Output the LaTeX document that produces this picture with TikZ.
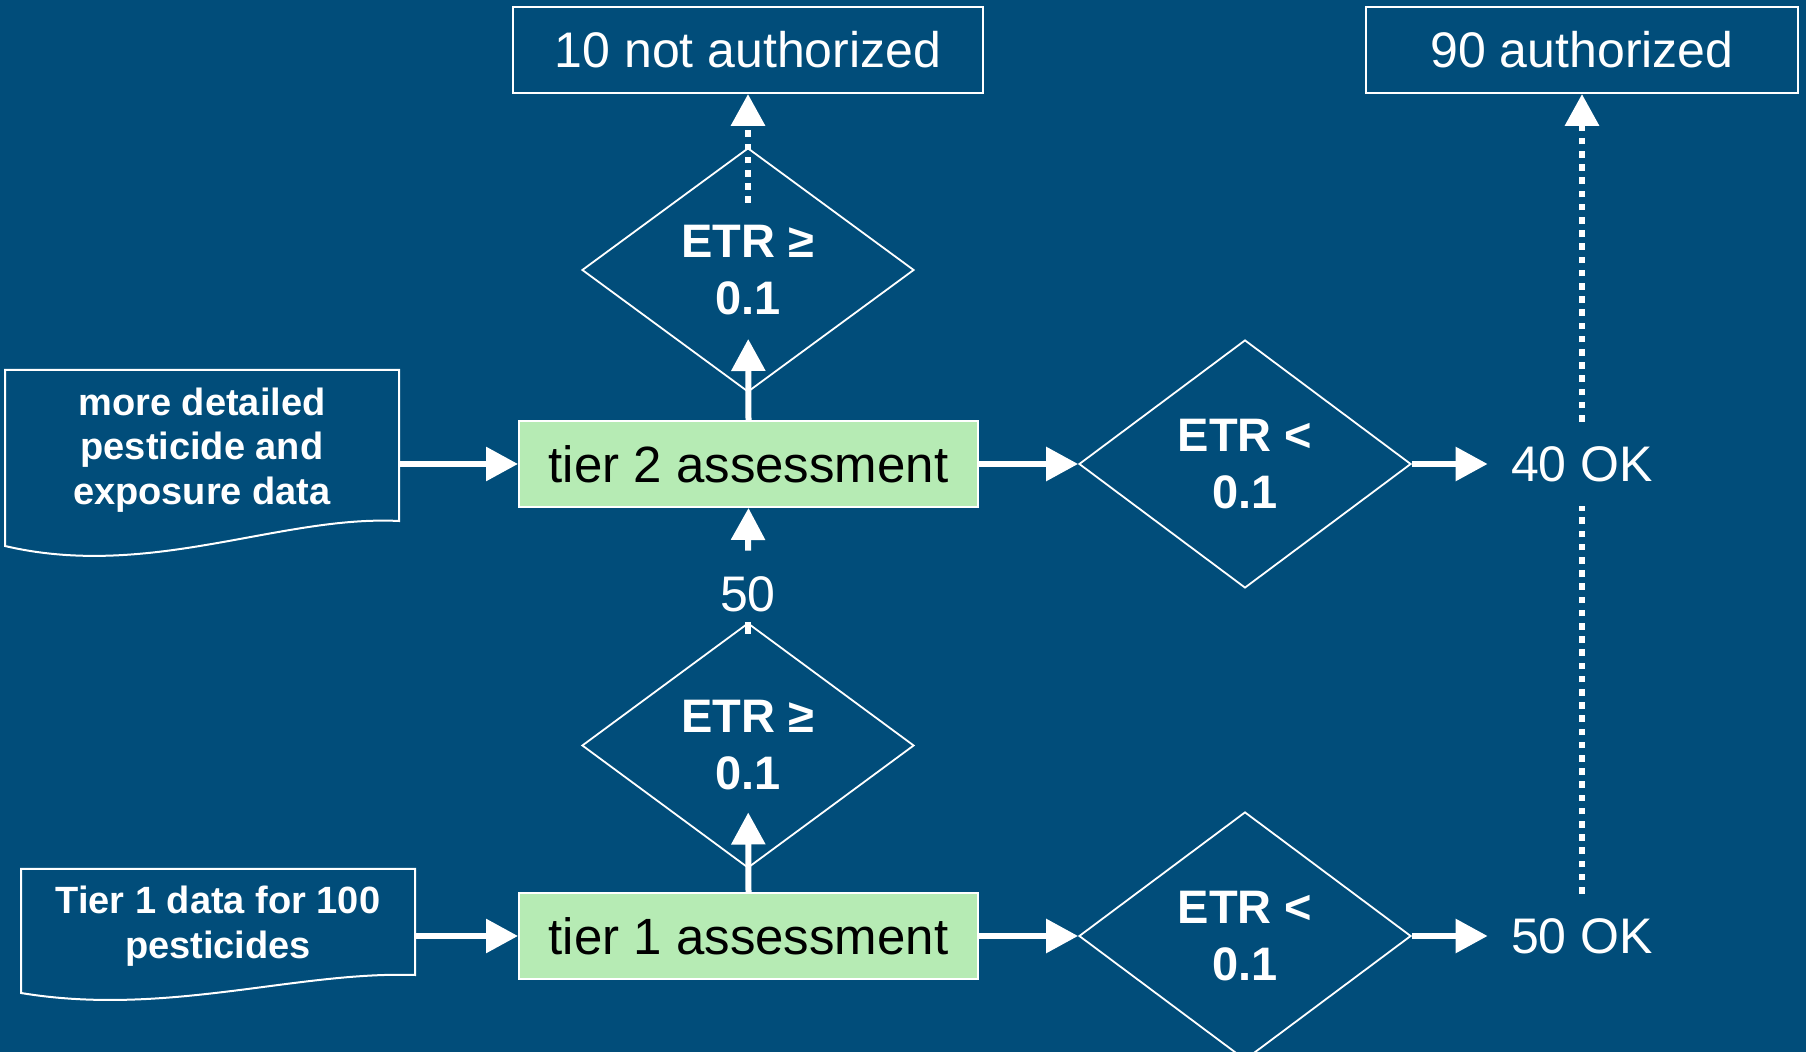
\documentclass[tikz,border=0pt]{standalone}
\usepackage{fontspec}
\setmainfont{Liberation Sans}
\usetikzlibrary{shapes.geometric,arrows.meta}
\definecolor{bgblue}{RGB}{1,77,122}
\definecolor{boxgreen}{RGB}{182,235,180}
\begin{document}
\begin{tikzpicture}[x=0.5pt,y=-0.5pt,
  lighttext/.style={font=\fontsize{25}{30}\selectfont},
  outbox/.style={draw=white, line width=1pt, text=white, inner sep=0pt, minimum height=43pt, lighttext},
  tierbox/.style={draw=white, line width=1pt, fill=boxgreen, text=black, inner sep=0pt, minimum width=229.5pt, minimum height=43pt, font=\fontsize{25.5}{30}\selectfont},
  decision/.style={diamond, draw=white, line width=0.9pt, text=white, inner sep=0pt, minimum width=166pt, align=center, font=\bfseries\fontsize{23.5}{28.5}\selectfont},
  oklabel/.style={text=white, inner sep=0pt, minimum width=94pt, minimum height=42pt, lighttext},
  numlabel/.style={text=white, inner sep=0pt, minimum height=43pt, lighttext},
  doctext/.style={text=white, align=center, inner sep=0pt, font=\bfseries\fontsize{19}{22.25}\selectfont},
  docline/.style={draw=white, line width=1pt},
  tip/.style={-{Triangle[length=16pt,width=16.5pt]}},
  conn/.style={draw=white, line width=3pt, tip},
  stub/.style={draw=white, line width=3pt},
  dotconn/.style={draw=white, line width=3.3pt, dash pattern=on 3.3pt off 3.3pt}
]
\fill[bgblue] (0,0) rectangle (1806,1052);
\useasboundingbox (0,0) rectangle (1806,1052);

% top result boxes
\node[outbox, minimum width=235pt] (na) at (748,50) {10 not authorized};
\node[outbox, minimum width=216pt] (au) at (1582,50) {90 authorized};

% tier 2 row
\node[decision, minimum height=122pt] (d2) at (748,270) {ETR ≥\\0.1};
\node[tierbox] (t2) at (748.5,464) {tier 2 assessment};
\node[decision, minimum height=124pt] (r2) at (1245,464) {ETR <\\0.1};
\node[oklabel] (ok40) at (1582,464) {40 OK};

\node[numlabel] (n50) at (748,594) {50};

% tier 1 row
\node[decision, minimum height=122.5pt] (d1) at (748,745.5) {ETR ≥\\0.1};
\node[tierbox] (t1) at (748.5,936) {tier 1 assessment};
\node[decision, minimum height=124pt] (r1) at (1245,936) {ETR <\\0.1};
\node[oklabel] (ok50) at (1582,936) {50 OK};

% document shapes
\draw[docline] (5,370) -- (399,370) -- (399,521) .. controls (280,515) and (150,580) .. (5,546) -- cycle;
\node[doctext] (doc2) at (202,450) {more detailed\\pesticide and\\exposure data};
\coordinate (doc2e) at (399,464);

\draw[docline] (21,869) -- (415,869) -- (415,975) .. controls (296,971) and (166,1017) .. (21,993) -- cycle;
\node[doctext] (doc1) at (218,926) {Tier 1 data for 100\\pesticides};
\coordinate (doc1e) at (415,936);

% connectors
\draw[conn] (doc2e) -- (t2.west);
\draw[conn] (doc1e) -- (t1.west);
\draw[conn] (t2.east) -- (r2.west);
\draw[conn] (t1.east) -- (r1.west);
\draw[conn] (r2.east) -- (ok40.west);
\draw[conn] (r1.east) -- (ok50.west);
\draw[conn, shorten >=34.5pt] (t2.north) -- (d2.center);
\draw[conn, shorten >=33.5pt] (t1.north) -- (d1.center);
\draw[conn] (n50.north) -- (t2.south);
\draw[stub] (d1.north) -- ++(0,12);
\draw[dotconn, tip, shorten <=33.5pt] (d2.center) -- (na.south);
\draw[dotconn] (ok50.north) -- (ok40.south);
\draw[dotconn, tip] (ok40.north) -- (au.south);
\end{tikzpicture}
\end{document}
